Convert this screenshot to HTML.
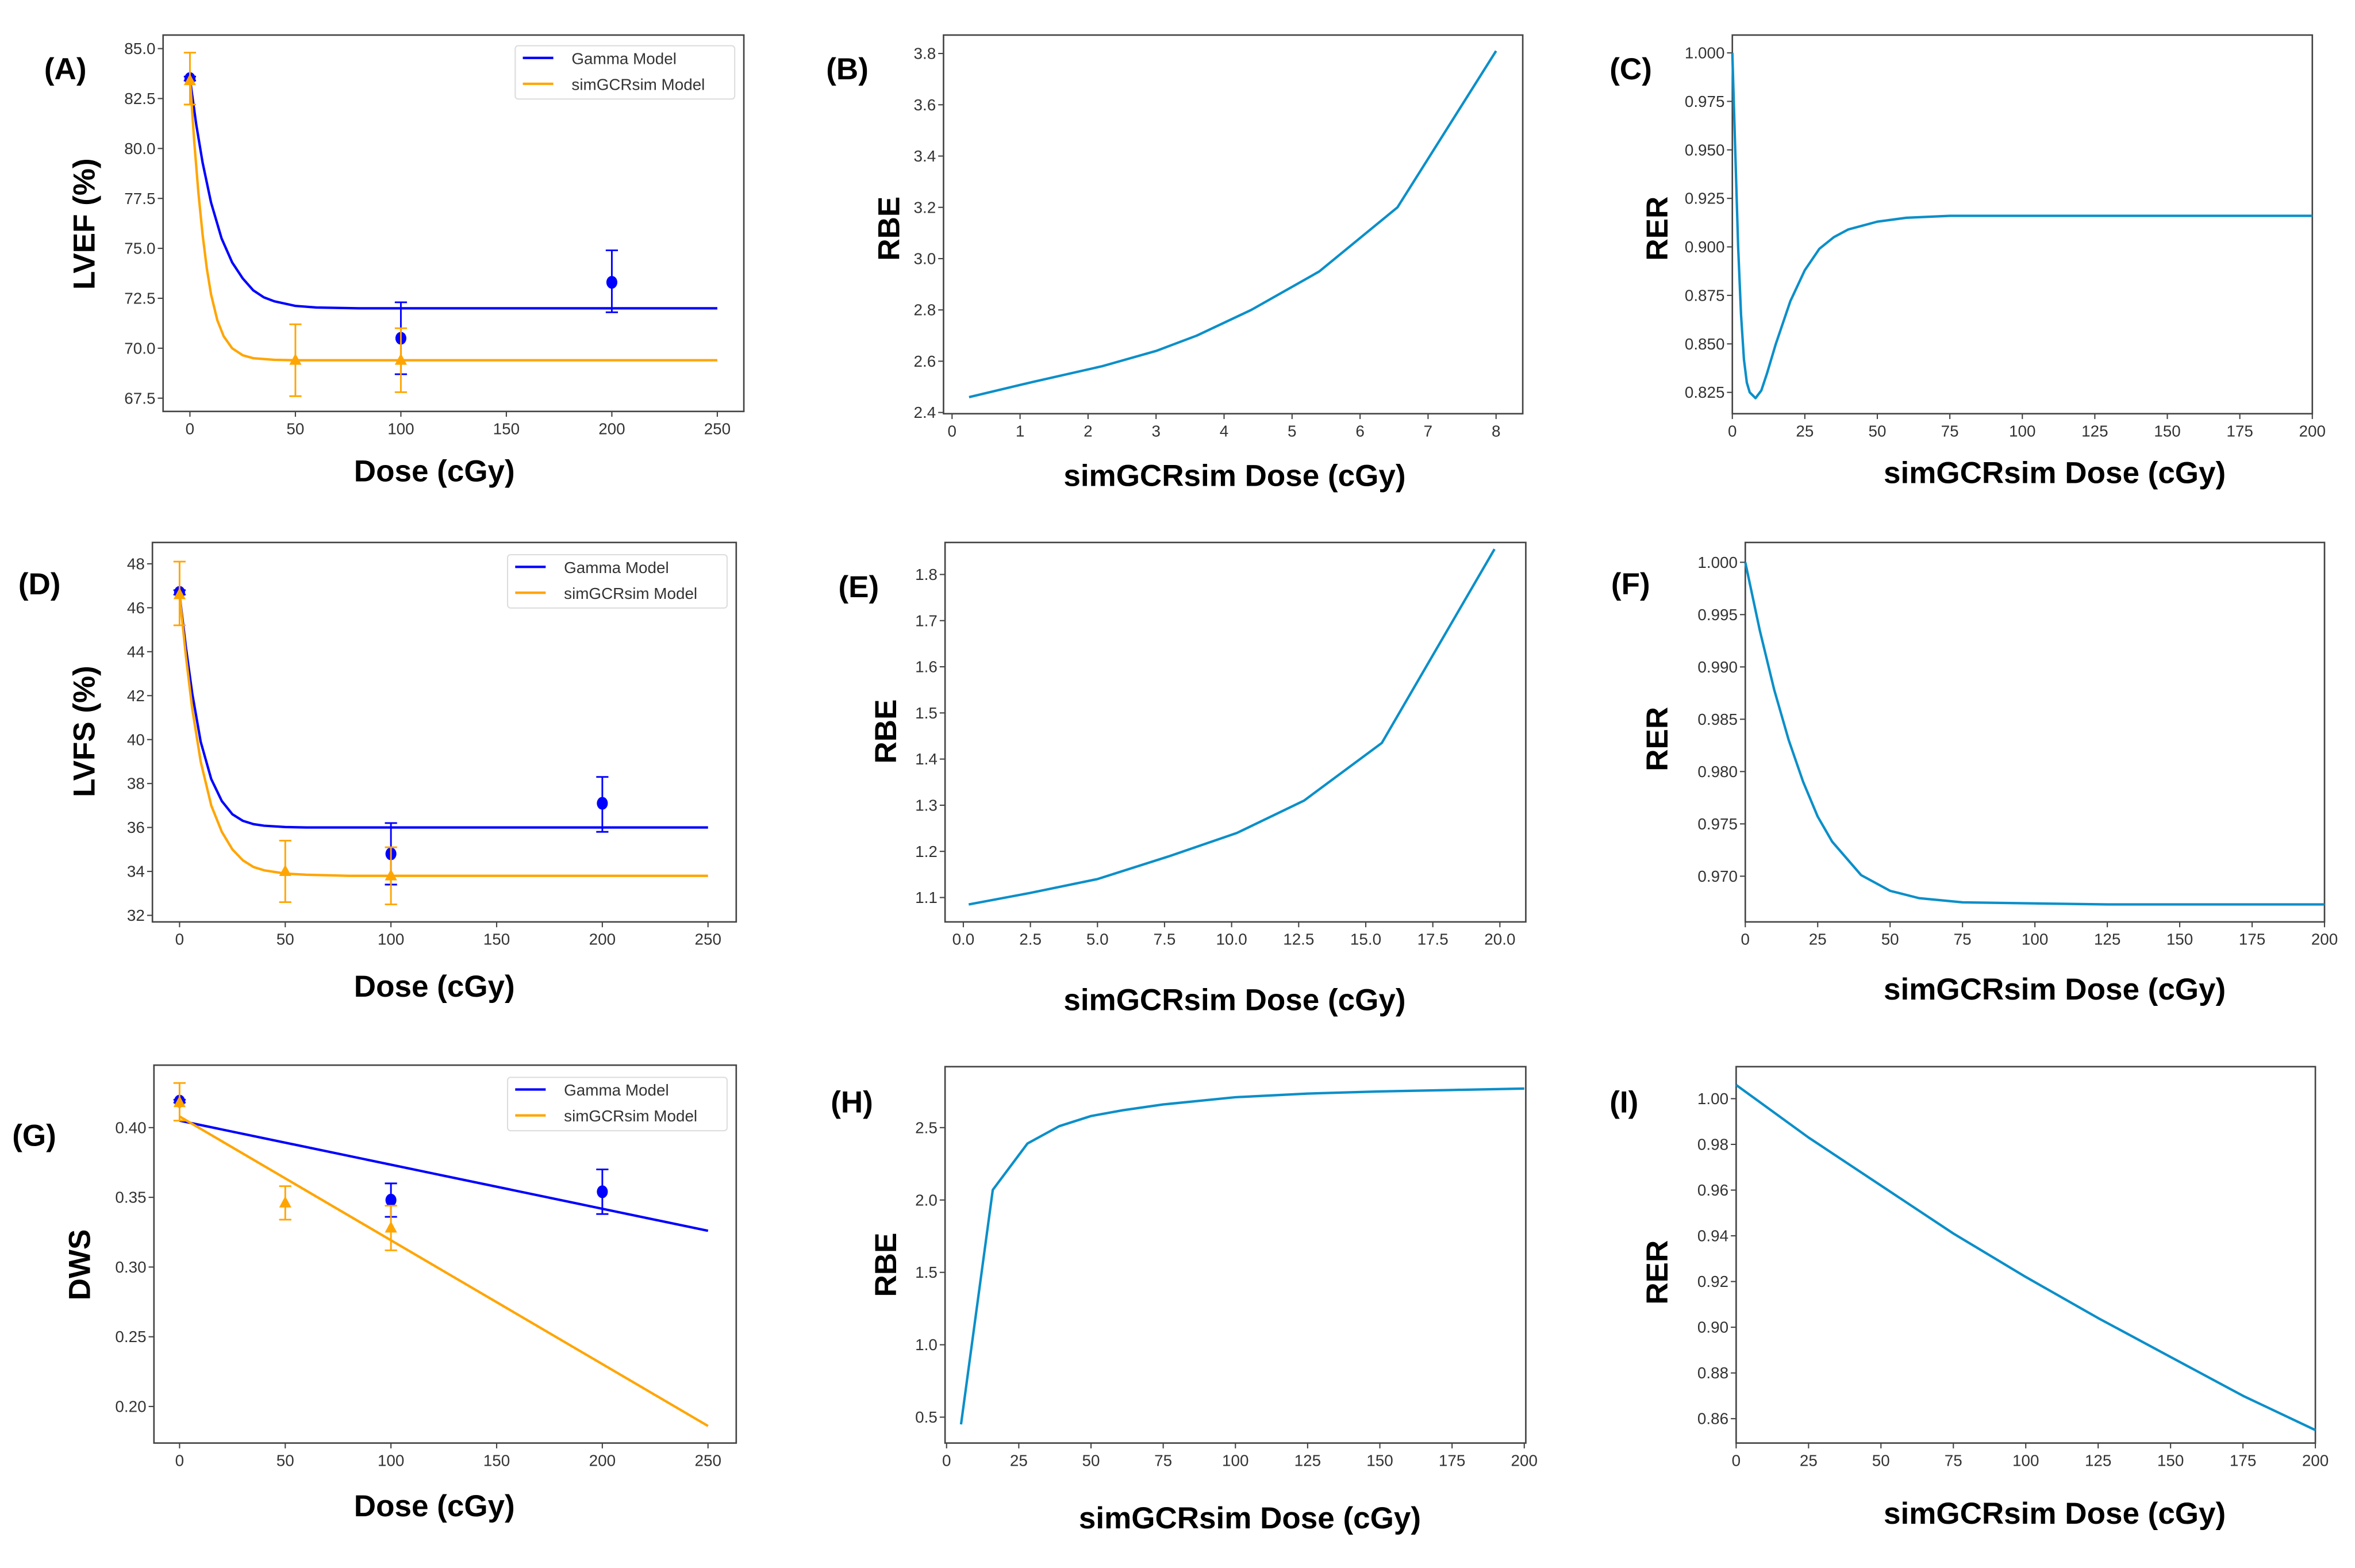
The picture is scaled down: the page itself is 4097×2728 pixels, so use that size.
<!DOCTYPE html>
<html><head><meta charset="utf-8"><style>
html,body{margin:0;padding:0;background:#fff}
svg{display:block}
text{font-family:"Liberation Sans",sans-serif}
.tk{font-size:10.5px;fill:#333}
.al{font-size:20px;font-weight:bold;fill:#000}
.pl{font-size:20px;font-weight:bold;fill:#000}
.lg{font-size:10.5px;fill:#333}
</style></head><body>
<svg id="fig" width="4097" height="2728" viewBox="0 0 1545 1029" preserveAspectRatio="none" xmlns="http://www.w3.org/2000/svg"></svg>
<script>
// ---- data ----
const aGammaX=[0,3,6,10,15,20,25,30,35,40,50,60,80,100,150,200,250];
const aGammaY=[83.5,81.2,79.3,77.3,75.5,74.3,73.5,72.9,72.55,72.35,72.12,72.04,72.0,72.0,72.0,72.0,72.0];
const aSimX=[0,2,4,6,8,10,13,16,20,25,30,40,50,100,150,200,250];
const aSimY=[83.5,80.4,77.8,75.7,74.0,72.7,71.4,70.6,70.0,69.65,69.5,69.42,69.4,69.4,69.4,69.4,69.4];
const aPtsGX=[0,100,200], aPtsGY=[83.5,70.5,73.3], aPtsGLo=[83.4,68.7,71.8], aPtsGHi=[83.6,72.3,74.9];
const aPtsSX=[0,50,100], aPtsSY=[83.4,69.4,69.4], aPtsSLo=[82.2,67.6,67.8], aPtsSHi=[84.8,71.2,71.0];

const bX=[0.25,1.2,2.2,3.0,3.6,4.4,5.4,6.55,8.0];
const bY=[2.46,2.52,2.58,2.64,2.70,2.80,2.95,3.20,3.81];

const cX=[0,1,2,3,4,5,6,8,10,12,15,20,25,30,35,40,50,60,75,100,150,200];
const cY=[1.0,0.95,0.90,0.865,0.842,0.83,0.825,0.822,0.826,0.835,0.85,0.872,0.888,0.899,0.905,0.909,0.913,0.915,0.916,0.916,0.916,0.916];

const dGammaX=[0,3,6,10,15,20,25,30,35,40,50,60,80,100,150,200,250];
const dGammaY=[46.6,44.2,42.1,39.9,38.2,37.2,36.6,36.3,36.15,36.08,36.02,36.0,36.0,36.0,36.0,36.0,36.0];
const dSimX=[0,3,6,10,15,20,25,30,35,40,50,60,80,100,150,200,250];
const dSimY=[46.6,43.8,41.4,39.0,37.0,35.8,35.0,34.5,34.2,34.05,33.9,33.85,33.8,33.8,33.8,33.8,33.8];
const dPtsGX=[0,100,200], dPtsGY=[46.7,34.8,37.1], dPtsGLo=[46.6,33.4,35.8], dPtsGHi=[46.8,36.2,38.3];
const dPtsSX=[0,50,100], dPtsSY=[46.6,34.0,33.8], dPtsSLo=[45.2,32.6,32.5], dPtsSHi=[48.1,35.4,35.1];

const eX=[0.2,2.5,5.0,7.7,10.2,12.7,15.6,19.8];
const eY=[1.085,1.11,1.14,1.19,1.24,1.31,1.435,1.855];

const fX=[0,5,10,15,20,25,30,40,50,60,75,100,125,150,200];
const fY=[1.0,0.9935,0.9878,0.9830,0.9790,0.9757,0.9733,0.9701,0.9686,0.9679,0.9675,0.9674,0.9673,0.9673,0.9673];

const gGammaX=[0,250], gGammaY=[0.405,0.326];
const gSimX=[0,250], gSimY=[0.408,0.186];
const gPtsGX=[0,100,200], gPtsGY=[0.419,0.348,0.354], gPtsGLo=[0.418,0.336,0.338], gPtsGHi=[0.420,0.360,0.370];
const gPtsSX=[0,50,100], gPtsSY=[0.418,0.346,0.328], gPtsSLo=[0.405,0.334,0.312], gPtsSHi=[0.432,0.358,0.344];

const hX=[5,16,28,39,50,61,75,100,125,150,175,200];
const hY=[0.45,2.07,2.39,2.51,2.58,2.62,2.66,2.71,2.735,2.75,2.76,2.77];

const iX=[0,25,50,75,100,125,150,175,200];
const iY=[1.006,0.983,0.962,0.941,0.922,0.904,0.887,0.870,0.855];

const ticksLVEF=[67.5,70.0,72.5,75.0,77.5,80.0,82.5,85.0];
const ticksDose=[0,50,100,150,200,250];
const ticksB=[2.4,2.6,2.8,3.0,3.2,3.4,3.6,3.8];
const ticksBx=[0,1,2,3,4,5,6,7,8];
const ticksC=[0.825,0.850,0.875,0.900,0.925,0.950,0.975,1.000];
const ticks200=[0,25,50,75,100,125,150,175,200];
const ticksD=[32,34,36,38,40,42,44,46,48];
const ticksE=[1.1,1.2,1.3,1.4,1.5,1.6,1.7,1.8];
const ticksEx=[0.0,2.5,5.0,7.5,10.0,12.5,15.0,17.5,20.0];
const ticksF=[0.970,0.975,0.980,0.985,0.990,0.995,1.000];
const ticksG=[0.20,0.25,0.30,0.35,0.40];
const ticksH=[0.5,1.0,1.5,2.0,2.5];
const ticksI=[0.86,0.88,0.90,0.92,0.94,0.96,0.98,1.00];

const NS="http://www.w3.org/2000/svg";
const svg=document.getElementById('fig');
function mk(tag,attrs,parent){const e=document.createElementNS(NS,tag);for(const k in attrs)e.setAttribute(k,attrs[k]);(parent||svg).appendChild(e);return e;}

function panel(p){
  const g=mk('g',{});
  
  
  const sx=v=>p.x0[1]+(v-p.x0[0])*(p.x1[1]-p.x0[1])/(p.x1[0]-p.x0[0]);
  const sy=v=>p.y0[1]+(v-p.y0[0])*(p.y1[1]-p.y0[1])/(p.y1[0]-p.y0[0]);
  const [L,T,R,B]=p.box;
  const fr=mk('rect',{x:L,y:T,width:R-L,height:B-T,fill:'none',stroke:'#444','stroke-width':1},g);
  
  
  p.xt.forEach((v,i)=>{const x=sx(v);mk('line',{x1:x,x2:x,y1:B,y2:B+3.5,stroke:'#444','stroke-width':0.8},g);
    const t=mk('text',{x:x,y:B+15,'text-anchor':'middle',class:'tk'},g);t.textContent=p.xl[i];
    
    });
  p.yt.forEach((v,i)=>{const y=sy(v);mk('line',{x1:L-3.5,x2:L,y1:y,y2:y,stroke:'#444','stroke-width':0.8},g);
    const t=mk('text',{x:L-5,y:y+3.6,'text-anchor':'end',class:'tk'},g);t.textContent=p.yl[i];
    
    });
  p.series.forEach(s=>{
    const d=s.x.map((v,i)=>(i?'L':'M')+sx(v).toFixed(2)+','+sy(s.y[i]).toFixed(2)).join(' ');
    const pa=mk('path',{d:d,fill:'none',stroke:s.c,'stroke-width':s.w||1.6,'stroke-linejoin':'round'},g);
    
    
  });
  (p.pts||[]).forEach(s=>{
    s.x.forEach((v,i)=>{const x=sx(v);
      const eb=mk('g',{},g);
      
      
      mk('line',{x1:x,x2:x,y1:sy(s.lo[i]),y2:sy(s.hi[i]),stroke:s.c,'stroke-width':1.1},eb);
      mk('line',{x1:x-4,x2:x+4,y1:sy(s.lo[i]),y2:sy(s.lo[i]),stroke:s.c,'stroke-width':1.1},eb);
      mk('line',{x1:x-4,x2:x+4,y1:sy(s.hi[i]),y2:sy(s.hi[i]),stroke:s.c,'stroke-width':1.1},eb);
      const y=sy(s.y[i]);let m;
      if(s.tri) m=mk('path',{d:`M${x},${y-4.5} L${x+4},${y+3} L${x-4},${y+3} Z`,fill:s.c},g);
      else m=mk('ellipse',{cx:x,cy:y,rx:3.6,ry:4.2,fill:s.c},g);
      
      
    });
  });
  if(p.legend){
    const [lx,ly]=p.legend;
    const lg=mk('g',{},g);
    
    
    mk('rect',{x:lx,y:ly,width:144,height:35,rx:2,fill:'#fff',stroke:'#ddd','stroke-width':0.8},lg);
    mk('line',{x1:lx+5,x2:lx+25,y1:ly+8,y2:ly+8,stroke:'#0000ff','stroke-width':1.6},lg);
    mk('line',{x1:lx+5,x2:lx+25,y1:ly+25,y2:ly+25,stroke:'#ffa500','stroke-width':1.6},lg);
    const t1=mk('text',{x:lx+37,y:ly+12,class:'lg'},lg);t1.textContent='Gamma Model';
    
    
    const t2=mk('text',{x:lx+37,y:ly+29,class:'lg'},lg);t2.textContent='simGCRsim Model';
    
    
  }
  const xl=mk('text',{x:p.xlab[1],y:p.xlab[2],'text-anchor':'middle',class:'al'},g);xl.textContent=p.xlab[0];
  
  
  const yl=mk('text',{x:0,y:0,'text-anchor':'middle',class:'al',transform:`translate(${p.ylab[1]},${p.ylab[2]}) rotate(-90)`},g);yl.textContent=p.ylab[0];
  
  
  const pl=mk('text',{x:p.lab[1],y:p.lab[2],class:'pl'},g);pl.textContent=p.lab[0];
  
  
}
const f1=a=>a.map(v=>v.toFixed(1)), f3=a=>a.map(v=>v.toFixed(3)), f2=a=>a.map(v=>v.toFixed(2)), f0=a=>a.map(v=>String(v));
const BLUE='#0000ff', ORG='#ffa500', CB='#0a8fc9';
const DOSE='Dose (cGy)', SDOSE='simGCRsim Dose (cGy)';

panel({id:'a',box:[107,23,488,270],x0:[0,124.6],x1:[250,470.6],y0:[85,31.9],y1:[67.5,261.3],
 xt:ticksDose,xl:f0(ticksDose),yt:ticksLVEF,yl:f1(ticksLVEF),
 series:[{x:aGammaX,y:aGammaY,c:BLUE,name:'gamma-model-line'},{x:aSimX,y:aSimY,c:ORG,name:'simgcrsim-model-line'}],
 pts:[{x:aPtsGX,y:aPtsGY,lo:aPtsGLo,hi:aPtsGHi,c:BLUE,name:'gamma-data'},{x:aPtsSX,y:aPtsSY,lo:aPtsSLo,hi:aPtsSHi,c:ORG,tri:true,name:'simgcrsim-data'}],
 legend:[338,30],xlab:[DOSE,285,316],ylab:['LVEF (%)',62,147],lab:['(A)',29,52]});
panel({id:'b',box:[619,23,999,271.5],x0:[0,624.6],x1:[8,981.5],y0:[3.8,35.1],y1:[2.4,270.7],
 xt:ticksBx,xl:f0(ticksBx),yt:ticksB,yl:f1(ticksB),
 series:[{x:bX,y:bY,c:CB,name:'rbe-line'}],
 xlab:[SDOSE,810,319],ylab:['RBE',590,150],lab:['(B)',542,52]});
panel({id:'c',box:[1136.5,23,1517,271.5],x0:[0,1136.5],x1:[200,1517],y0:[1.0,34.7],y1:[0.825,257.5],
 xt:ticks200,xl:f0(ticks200),yt:ticksC,yl:f3(ticksC),
 series:[{x:cX,y:cY,c:CB,name:'rer-line'}],
 xlab:[SDOSE,1348,317],ylab:['RER',1094,150],lab:['(C)',1056,52]});
panel({id:'d',box:[100,356,483,605],x0:[0,117.8],x1:[250,464.5],y0:[48,370],y1:[32,600.7],
 xt:ticksDose,xl:f0(ticksDose),yt:ticksD,yl:f0(ticksD),
 series:[{x:dGammaX,y:dGammaY,c:BLUE,name:'gamma-model-line'},{x:dSimX,y:dSimY,c:ORG,name:'simgcrsim-model-line'}],
 pts:[{x:dPtsGX,y:dPtsGY,lo:dPtsGLo,hi:dPtsGHi,c:BLUE,name:'gamma-data'},{x:dPtsSX,y:dPtsSY,lo:dPtsSLo,hi:dPtsSHi,c:ORG,tri:true,name:'simgcrsim-data'}],
 legend:[333,364],xlab:[DOSE,285,654],ylab:['LVFS (%)',62,480],lab:['(D)',12,390]});
panel({id:'e',box:[620,356,1001,605],x0:[0,632],x1:[20,984],y0:[1.8,377],y1:[1.1,589],
 xt:ticksEx,xl:f1(ticksEx),yt:ticksE,yl:f1(ticksE),
 series:[{x:eX,y:eY,c:CB,name:'rbe-line'}],
 xlab:[SDOSE,810,663],ylab:['RBE',588,480],lab:['(E)',550,392]});
panel({id:'f',box:[1145,356,1525,605],x0:[0,1145],x1:[200,1525],y0:[1.0,369],y1:[0.97,575],
 xt:ticks200,xl:f0(ticks200),yt:ticksF,yl:f3(ticksF),
 series:[{x:fX,y:fY,c:CB,name:'rer-line'}],
 xlab:[SDOSE,1348,656],ylab:['RER',1094,485],lab:['(F)',1057,390]});
panel({id:'g',box:[101,699,483,947],x0:[0,117.8],x1:[250,464.5],y0:[0.40,740],y1:[0.20,923],
 xt:ticksDose,xl:f0(ticksDose),yt:ticksG,yl:f2(ticksG),
 series:[{x:gGammaX,y:gGammaY,c:BLUE,name:'gamma-model-line'},{x:gSimX,y:gSimY,c:ORG,name:'simgcrsim-model-line'}],
 pts:[{x:gPtsGX,y:gPtsGY,lo:gPtsGLo,hi:gPtsGHi,c:BLUE,name:'gamma-data'},{x:gPtsSX,y:gPtsSY,lo:gPtsSLo,hi:gPtsSHi,c:ORG,tri:true,name:'simgcrsim-data'}],
 legend:[333,707],xlab:[DOSE,285,995],ylab:['DWS',59,830],lab:['(G)',8,752]});
panel({id:'h',box:[620,700,1001,947],x0:[0,621],x1:[200,1000],y0:[2.5,740],y1:[0.5,930],
 xt:ticks200,xl:f0(ticks200),yt:ticksH,yl:f1(ticksH),
 series:[{x:hX,y:hY,c:CB,name:'rbe-line'}],
 xlab:[SDOSE,820,1003],ylab:['RBE',588,830],lab:['(H)',545,730]});
panel({id:'i',box:[1139,700,1519,947],x0:[0,1139],x1:[200,1519],y0:[1.00,721],y1:[0.86,931],
 xt:ticks200,xl:f0(ticks200),yt:ticksI,yl:f2(ticksI),
 series:[{x:iX,y:iY,c:CB,name:'rer-line'}],
 xlab:[SDOSE,1348,1000],ylab:['RER',1094,835],lab:['(I)',1056,730]});
</script>
</body></html>
